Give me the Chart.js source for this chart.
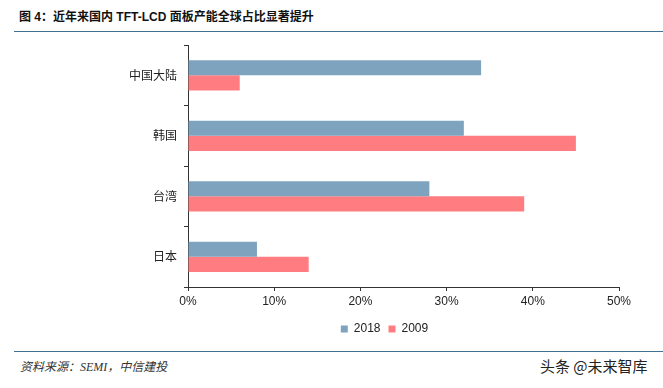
<!DOCTYPE html>
<html>
<head>
<meta charset="utf-8">
<script src="https://cdn.jsdelivr.net/npm/chart.js@4.4.0/dist/chart.umd.min.js"></script>
<style>
html,body{margin:0;padding:0;background:#fff;}
body{width:663px;height:388px;position:relative;overflow:hidden;font-family:"Liberation Sans","Noto Sans CJK SC",sans-serif;}
#title{position:absolute;left:19px;top:7px;font-size:12px;font-weight:bold;color:#111;white-space:nowrap;}
#rule1{position:absolute;left:14px;right:0;top:31px;height:1px;background:#41718f;}
#rule2{position:absolute;left:14px;right:0;top:351px;height:1px;background:#41718f;}
#src{position:absolute;left:20px;top:357px;font-size:12px;font-style:italic;color:#333;font-family:"Liberation Serif","Noto Sans CJK SC",serif;white-space:nowrap;}
#wm{position:absolute;left:540px;top:355px;font-size:15px;color:#222;font-family:"Noto Sans CJK SC",sans-serif;white-space:nowrap;}
#wrap{position:absolute;left:0;top:0;width:663px;height:345px;}
</style>
</head>
<body>
<div id="title">图 4：近年来国内 TFT-LCD 面板产能全球占比显著提升</div>
<div id="rule1"></div>
<div id="wrap"><canvas id="c"></canvas></div>
<div id="rule2"></div>
<div id="src">资料来源：SEMI，中信建投</div>
<div id="wm">头条 @未来智库</div>
<script>
const categories = ["中国大陆", "韩国", "台湾", "日本"];
const series2018 = [34, 32, 28, 8];
const series2009 = [6, 45, 39, 14];
const xTicks = [0, 10, 20, 30, 40, 50];

const shiftLegend = {
  id: 'shiftLegend',
  afterLayout(chart) {
    const lg = chart.legend;
    if (lg) { lg.left += 75; lg.right += 75; }
  }
};

new Chart(document.getElementById('c'), {
  type: 'bar',
  data: {
    labels: categories,
    datasets: [
      {label: '2018', data: series2018, backgroundColor: '#7ea3bf', borderWidth: 0, barPercentage: 1.0, categoryPercentage: 0.5},
      {label: '2009', data: series2009, backgroundColor: '#ff7c80', borderWidth: 0, barPercentage: 1.0, categoryPercentage: 0.5}
    ]
  },
  plugins: [shiftLegend],
  options: {
    indexAxis: 'y',
    responsive: true,
    maintainAspectRatio: false,
    animation: false,
    layout: {padding: {top: 45, left: 0, right: 44, bottom: 0}},
    plugins: {
      legend: {
        position: 'bottom',
        labels: {boxWidth: 7, boxHeight: 7, padding: 8, color: '#222', font: {family: 'Liberation Sans', size: 12}}
      },
      tooltip: {enabled: false}
    },
    scales: {
      x: {
        min: 0, max: 50,
        afterBuildTicks: (s) => { s.ticks = xTicks.map(v => ({value: v})); },
        ticks: {callback: (v) => v + '%', color: '#222', font: {family: 'Liberation Sans', size: 12}, padding: 3},
        grid: {display: true, drawOnChartArea: false, drawTicks: true, tickLength: 4, color: '#333'},
        border: {display: true, color: '#333', width: 1},
        afterFit: (s) => { s.height = 28; }
      },
      y: {
        ticks: {color: '#222', font: {family: 'Noto Sans CJK SC', size: 12}, padding: 7},
        grid: {display: true, offset: true, drawOnChartArea: false, drawTicks: true, tickLength: 4, color: '#333'},
        border: {display: true, color: '#333', width: 1},
        afterFit: (s) => { s.width = 188; }
      }
    }
  }
});
</script>
</body>
</html>
